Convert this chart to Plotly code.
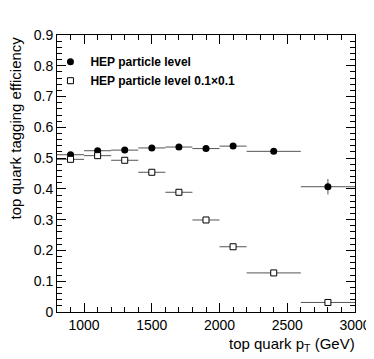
import plotly.graph_objects as go

# Bin edges -> centres and half-widths (GeV)
bin_lo = [800, 1000, 1200, 1400, 1600, 1800, 2000, 2200, 2600]
bin_hi = [1000, 1200, 1400, 1600, 1800, 2000, 2200, 2600, 3000]
pt = [(a + b) / 2 for a, b in zip(bin_lo, bin_hi)]
pt_err = [(b - a) / 2 for a, b in zip(bin_lo, bin_hi)]

eff_hep = [0.511, 0.524, 0.526, 0.533, 0.536, 0.531, 0.539, 0.522, 0.407]
eff_hep_err = [0.004, 0.004, 0.004, 0.004, 0.004, 0.004, 0.005, 0.006, 0.025]

eff_hep01 = [0.496, 0.508, 0.493, 0.454, 0.389, 0.299, 0.212, 0.127, 0.031]
eff_hep01_err = [0.004, 0.004, 0.004, 0.004, 0.004, 0.004, 0.004, 0.004, 0.004]

FONT = "Liberation Sans, Arial, Helvetica, sans-serif"
ERRC = "#555555"

fig = go.Figure()
fig.add_trace(go.Scatter(
    x=pt, y=eff_hep, mode="markers", name="<b>HEP particle level</b>",
    legendgroup="a",
    marker=dict(symbol="circle", size=7, color="black"),
    error_x=dict(type="data", array=pt_err, width=0, thickness=1, color=ERRC),
    error_y=dict(type="data", array=eff_hep_err, width=0, thickness=1, color=ERRC),
))
fig.add_trace(go.Scatter(
    x=pt, y=eff_hep01, mode="markers", name="<b>HEP particle level 0.1×0.1</b>",
    legendgroup="b",
    marker=dict(symbol="square", size=6, color="white", line=dict(color="black", width=1)),
    error_x=dict(type="data", array=pt_err, width=0, thickness=1, color=ERRC),
    error_y=dict(type="data", array=eff_hep01_err, width=0, thickness=1, color=ERRC),
))

axis_common = dict(
    showgrid=False, zeroline=False, showline=True, linecolor="black", linewidth=1,
    mirror="ticks", ticks="inside", tickcolor="black", tickwidth=1, automargin=False,
    tickfont=dict(family=FONT, size=14, color="black"),
)
fig.update_xaxes(range=[800, 3000], tick0=1000, dtick=500, ticklen=9,
                 minor=dict(ticks="inside", dtick=100, ticklen=5, tickcolor="black", showgrid=False),
                 **axis_common)
fig.update_yaxes(range=[0, 0.9], tick0=0, dtick=0.1, ticklen=9,
                 minor=dict(ticks="inside", dtick=0.02, ticklen=5, tickcolor="black", showgrid=False),
                 **axis_common)

# page body has an 8px margin, so the figure is drawn 8px smaller and margins shifted
fig.update_layout(
    width=366, height=351,
    margin=dict(l=49, r=19, t=27, b=47),
    paper_bgcolor="white", plot_bgcolor="white",
    font=dict(family=FONT, color="black"),
    showlegend=True,
    legend=dict(x=-0.022, y=0.956, xanchor="left", yanchor="top",
                bgcolor="rgba(0,0,0,0)", font=dict(family=FONT, size=12, color="black"),
                itemwidth=30, tracegroupgap=8, traceorder="normal"),
    annotations=[
        dict(text="top quark tagging efficiency", xref="paper", yref="paper",
             x=0, y=1, xanchor="center", yanchor="top", xshift=-42, textangle=-90,
             showarrow=False, font=dict(family=FONT, size=15, color="black")),
        dict(text="top quark p<sub>T</sub> (GeV)", xref="paper", yref="paper",
             x=1, y=0, xanchor="right", yanchor="middle", yshift=-32, xshift=2,
             showarrow=False, font=dict(family=FONT, size=15, color="black")),
    ],
)

fig.write_html("out.html")
